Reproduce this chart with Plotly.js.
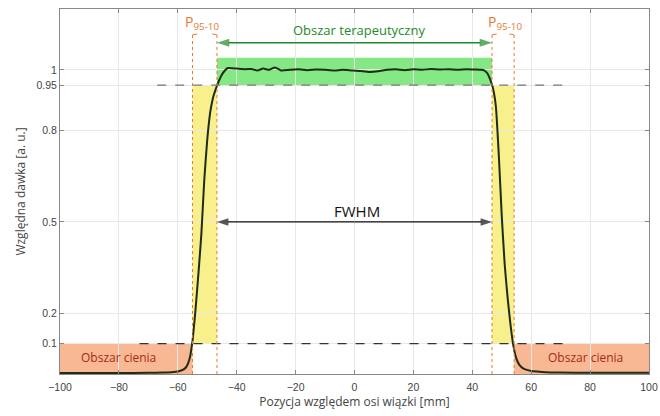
<!DOCTYPE html>
<html>
<head>
<meta charset="utf-8">
<script src="https://cdn.plot.ly/plotly-3.0.1.min.js"></script>
<style>html,body{margin:0;padding:0;background:#fff}#chart{width:660px;height:416px}</style>
</head>
<body>
<div id="chart"></div>
<script>
// Beam profile data (position [mm], relative dose)
const positions = [-100,-90,-80,-70,-65,-62,-60,-58,-57,-56,-55,-54,-53,-52,-51,-50,-49,-48,-47,-46,-45,-44,-43,
  -40,-37,-35,-33,-31,-29,-27,-25,-22,-19,-16,-13,-10,-7,-4,-1,2,5,8,11,14,17,20,23,26,29,32,35,38,41,43,
  44,45,46,47,48,49,50,51,52,53,54,55,56,57,58,60,62,65,70,80,90,100];
const dose = [0.003,0.003,0.003,0.004,0.005,0.006,0.008,0.015,0.025,0.05,0.11,0.21,0.33,0.46,0.64,0.77,0.86,0.91,0.94,0.965,0.985,0.998,1.006,
  1.004,1.002,1.003,0.998,1.004,1.0,1.008,0.998,1.0,1.002,0.999,1.001,1.0,0.998,1.0,0.998,0.996,0.993,0.995,1.0,1.002,0.999,1.002,1.0,1.003,1.001,1.002,1.0,1.002,1.001,1.0,
  0.998,0.99,0.97,0.94,0.88,0.72,0.52,0.36,0.25,0.16,0.09,0.05,0.03,0.02,0.015,0.01,0.008,0.006,0.005,0.004,0.004,0.004];

// Region boundaries
const penumbraEdges = [-55.0, -46.7, 46.7, 54.2];   // P95-10 edges
const levels = {low: 0.1, high: 0.95, therapTop: 1.04, therapArrow: 1.089, fwhm: 0.5};
const xTicks = [-100,-80,-60,-40,-20,0,20,40,60,80,100];
const yTicks = [0.1,0.2,0.5,0.8,0.95,1];
const yTickLabels = ['0.1','0.2','0.5','0.8','0.95','1'];
const labels = {
  x: 'Pozycja względem osi wiązki [mm]',
  y: 'Względna dawka [a. u.]',
  shadow: 'Obszar cienia',
  therap: 'Obszar terapeutyczny',
  fwhm: 'FWHM',
  p: 'P<sub>95-10</sub>'
};

const ORANGE = '#e87a30';
const GREEN = '#1e8a28';
const LBL = 'Open Sans, DejaVu Sans, sans-serif';
const [e0,e1,e2,e3] = penumbraEdges;

const shapes = [
  {type:'rect', xref:'x', yref:'y', x0:-100, x1:e0, y0:0, y1:levels.low, fillcolor:'#f9b894', line:{width:0}, layer:'below'},
  {type:'rect', xref:'x', yref:'y', x0:e3, x1:100, y0:0, y1:levels.low, fillcolor:'#f9b894', line:{width:0}, layer:'below'},
  {type:'rect', xref:'x', yref:'y', x0:e0, x1:e1, y0:levels.low, y1:levels.high, fillcolor:'#f8f08c', line:{width:0}, layer:'below'},
  {type:'rect', xref:'x', yref:'y', x0:e2, x1:e3, y0:levels.low, y1:levels.high, fillcolor:'#f8f08c', line:{width:0}, layer:'below'},
  {type:'rect', xref:'x', yref:'y', x0:e1, x1:e2, y0:levels.high, y1:levels.therapTop, fillcolor:'#84e884', line:{width:0}, layer:'below'},
  {type:'line', xref:'x', yref:'y', x0:-67, x1:72, y0:levels.high, y1:levels.high, line:{color:'#777', width:1.2, dash:'dash'}},
  {type:'line', xref:'x', yref:'y', x0:-73, x1:71, y0:levels.low, y1:levels.low, line:{color:'#333', width:1.2, dash:'dash'}}
];
penumbraEdges.forEach(e => shapes.push({type:'line', xref:'x', yref:'y', x0:e, x1:e, y0:0, y1:1.12, line:{color:ORANGE, width:1, dash:'dot'}}));
[[e0,e1],[e2,e3]].forEach(([a,b]) => {
  shapes.push({type:'line', xref:'x', yref:'y', x0:a, x1:a+1.6, y0:1.115, y1:1.118, line:{color:ORANGE, width:1}});
  shapes.push({type:'line', xref:'x', yref:'y', x0:b-1.6, x1:b, y0:1.118, y1:1.115, line:{color:ORANGE, width:1}});
});

const annotations = [
  {x:1.5, y:1.13, xref:'x', yref:'y', text:labels.therap, showarrow:false, font:{family:LBL, size:13, color:GREEN}},
  {x:1.0, y:0.535, xref:'x', yref:'y', text:labels.fwhm, showarrow:false, font:{family:LBL, size:15, color:'#111'}},
  {x:-80.3, y:0.055, xref:'x', yref:'y', text:labels.shadow, showarrow:false, font:{family:LBL, size:12, color:'#a52a1a'}},
  {x:78.3, y:0.055, xref:'x', yref:'y', text:labels.shadow, showarrow:false, font:{family:LBL, size:12, color:'#a52a1a'}},
  {x:-51.8, y:1.155, xref:'x', yref:'y', text:labels.p, showarrow:false, font:{family:LBL, size:14, color:ORANGE}},
  {x:51.1, y:1.155, xref:'x', yref:'y', text:labels.p, showarrow:false, font:{family:LBL, size:14, color:ORANGE}}
];

function arrowTrace(xEnd, y, color, width, size) {
  return {x:[0, xEnd], y:[y, y], type:'scatter', mode:'lines+markers', hoverinfo:'skip',
    line:{color:color, width:width},
    marker:{symbol:'arrow', angleref:'previous', size:[0, size], color:color, line:{width:0}}};
}

const traces = [
  arrowTrace(e1, levels.therapArrow, GREEN, 1.5, 13),
  arrowTrace(e2, levels.therapArrow, GREEN, 1.5, 13),
  arrowTrace(e1, levels.fwhm, '#111', 1.3, 12),
  arrowTrace(e2, levels.fwhm, '#111', 1.3, 12),
  {x: positions, y: dose, type:'scatter', mode:'lines',
   line:{color:'#1f2d14', width:2, shape:'spline', smoothing:0.5}, hoverinfo:'skip'}
];

const layout = {
  width:660, height:416,
  margin:{l:60, r:11, t:9, b:42},
  paper_bgcolor:'#fff', plot_bgcolor:'#fff',
  showlegend:false,
  font:{family:'Liberation Sans, Arial, sans-serif', size:10, color:'#444'},
  xaxis:{range:[-100,100], tickvals:xTicks, showgrid:true, gridcolor:'#e8e8e8', zeroline:false,
    showline:true, linecolor:'#888', mirror:'ticks', ticks:'inside', ticklen:4, tickcolor:'#888',
    tickfont:{size:10.5, color:'#444'}, ticklabelstandoff:3,
    title:{text:labels.x, font:{family:LBL, size:12, color:'#444'}, standoff:4}},
  yaxis:{range:[0,1.2], tickvals:yTicks, ticktext:yTickLabels, showgrid:true, gridcolor:'#e8e8e8', zeroline:false,
    showline:true, linecolor:'#888', mirror:'ticks', ticks:'inside', ticklen:4, tickcolor:'#888',
    tickfont:{size:10.5, color:'#444'},
    title:{text:labels.y, font:{family:LBL, size:12, color:'#444'}, standoff:8}},
  shapes, annotations
};

Plotly.newPlot('chart', traces, layout, {staticPlot:true, displayModeBar:false});
</script>
</body>
</html>
